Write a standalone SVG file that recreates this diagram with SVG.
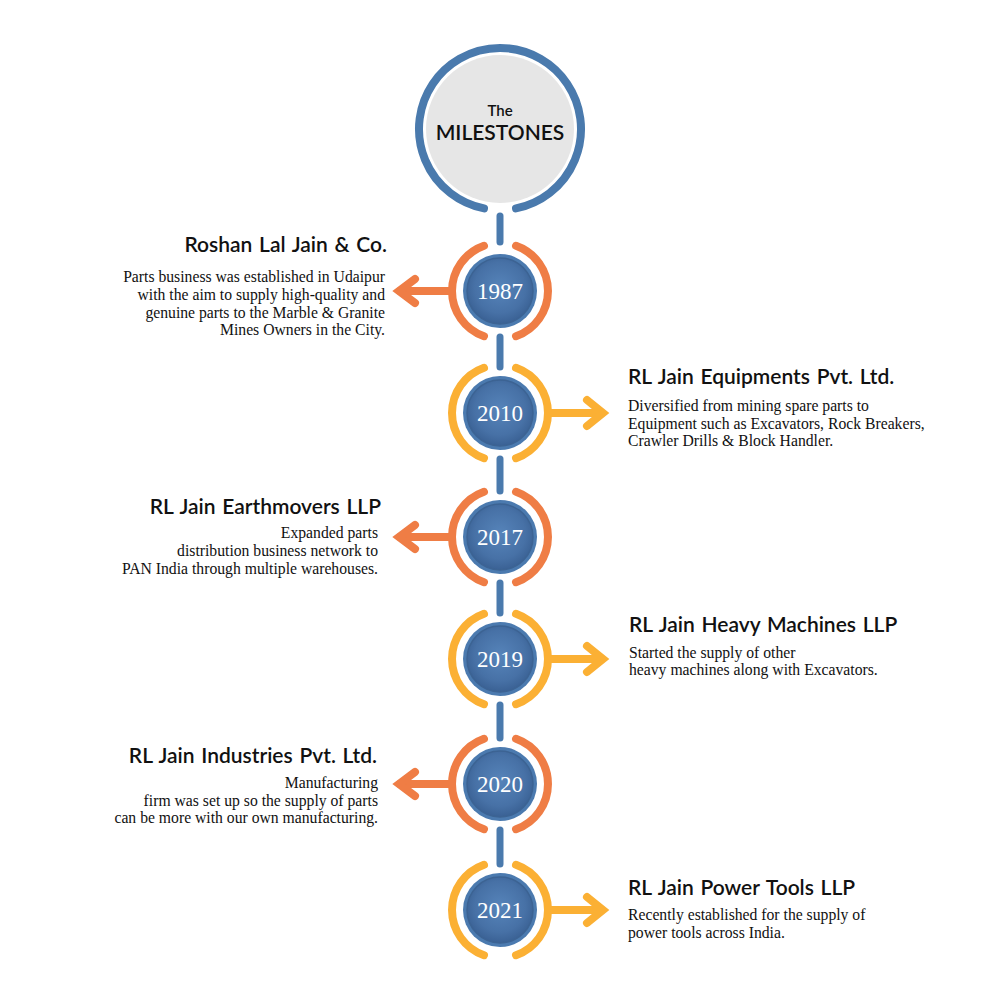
<svg xmlns="http://www.w3.org/2000/svg" width="1000" height="1000" viewBox="0 0 1000 1000">
<defs>
<radialGradient id="bg" cx="50%" cy="45%" r="55%">
<stop offset="0" stop-color="#5684ba"/>
<stop offset="0.7" stop-color="#4771a6"/>
<stop offset="1" stop-color="#3a6194"/>
</radialGradient>
<style>
.orb{fill:#4b7aaf}
.orbi{fill:url(#bg);stroke:#3c6393;stroke-width:1.5}
.yr{font-family:"Liberation Serif","Times New Roman",serif;font-size:23px;fill:#fff;text-anchor:middle}
.ro{fill:none;stroke:#ef7d45;stroke-width:8;stroke-linecap:round}
.ry{fill:none;stroke:#fbb034;stroke-width:8;stroke-linecap:round}
.stub{stroke:#4a7aad;stroke-width:7;stroke-linecap:round}
.hd{font-family:Lato,"Open Sans",sans-serif;font-weight:600;font-size:21px;word-spacing:1.5px;fill:#111}
.bd{font-family:"Liberation Serif","Times New Roman",serif;font-size:15.7px;fill:#111}
.l{text-anchor:end}
</style>
</defs>
<rect width="1000" height="1000" fill="#fff"/>

<g id="connectors">
<line class="stub" x1="500" y1="216" x2="500" y2="242"/>
<line class="stub" x1="500" y1="337" x2="500" y2="367"/>
<line class="stub" x1="500" y1="459" x2="500" y2="491"/>
<line class="stub" x1="500" y1="583" x2="500" y2="613"/>
<line class="stub" x1="500" y1="705" x2="500" y2="738"/>
<line class="stub" x1="500" y1="830" x2="500" y2="864"/>
</g>

<g id="title">
<circle cx="500" cy="129" r="74" fill="#e6e6e6"/>
<path d="M516 208.4 A81 81 0 1 0 484 208.4" fill="none" stroke="#4a7aad" stroke-width="8" stroke-linecap="round"/>
<text x="500" y="116" font-family="Lato,'Open Sans',sans-serif" font-weight="600" font-size="15" fill="#111" text-anchor="middle">The</text>
<text x="500" y="140" font-family="Lato,'Open Sans',sans-serif" font-weight="600" font-size="21" fill="#111" text-anchor="middle">MILESTONES</text>
</g>

<g id="n1987">
<path class="ro" d="M484 245.75 A48 48 0 0 0 484 336.25"/>
<path class="ro" d="M516 245.75 A48 48 0 0 1 516 336.25"/>
<line class="ro" x1="452" y1="291" x2="400" y2="291" stroke-linecap="butt"/>
<polyline class="ro" points="415,279 399,291 415,303" stroke-linejoin="miter"/>
<circle class="orb" cx="500" cy="291" r="37"/>
<circle class="orbi" cx="500" cy="291" r="33"/>
<text class="yr" x="500" y="299">1987</text>
<text class="hd l" x="387" y="252">Roshan Lal Jain &amp; Co.</text>
<text class="bd l" x="385" y="282">Parts business was established in Udaipur</text>
<text class="bd l" x="385" y="300">with the aim to supply high-quality and</text>
<text class="bd l" x="385" y="318">genuine parts to the Marble &amp; Granite</text>
<text class="bd l" x="385" y="335">Mines Owners in the City.</text>
</g>

<g id="n2010">
<path class="ry" d="M484 367.75 A48 48 0 0 0 484 458.25"/>
<path class="ry" d="M516 367.75 A48 48 0 0 1 516 458.25"/>
<line class="ry" x1="548" y1="413" x2="600" y2="413" stroke-linecap="butt"/>
<polyline class="ry" points="587,400 603,413 587,426" stroke-linejoin="miter"/>
<circle class="orb" cx="500" cy="413" r="37"/>
<circle class="orbi" cx="500" cy="413" r="33"/>
<text class="yr" x="500" y="421">2010</text>
<text class="hd" x="628" y="384">RL Jain Equipments Pvt. Ltd.</text>
<text class="bd" x="628" y="411">Diversified from mining spare parts to</text>
<text class="bd" x="628" y="429">Equipment such as Excavators, Rock Breakers,</text>
<text class="bd" x="628" y="446">Crawler Drills &amp; Block Handler.</text>
</g>

<g id="n2017">
<path class="ro" d="M484 491.75 A48 48 0 0 0 484 582.25"/>
<path class="ro" d="M516 491.75 A48 48 0 0 1 516 582.25"/>
<line class="ro" x1="452" y1="537" x2="400" y2="537" stroke-linecap="butt"/>
<polyline class="ro" points="415,525 399,537 415,549" stroke-linejoin="miter"/>
<circle class="orb" cx="500" cy="537" r="37"/>
<circle class="orbi" cx="500" cy="537" r="33"/>
<text class="yr" x="500" y="545">2017</text>
<text class="hd l" x="381" y="514">RL Jain Earthmovers LLP</text>
<text class="bd l" x="378" y="538">Expanded parts</text>
<text class="bd l" x="378" y="556">distribution business network to</text>
<text class="bd l" x="378" y="574">PAN India through multiple warehouses.</text>
</g>

<g id="n2019">
<path class="ry" d="M484 613.75 A48 48 0 0 0 484 704.25"/>
<path class="ry" d="M516 613.75 A48 48 0 0 1 516 704.25"/>
<line class="ry" x1="548" y1="659" x2="600" y2="659" stroke-linecap="butt"/>
<polyline class="ry" points="587,646 603,659 587,672" stroke-linejoin="miter"/>
<circle class="orb" cx="500" cy="659" r="37"/>
<circle class="orbi" cx="500" cy="659" r="33"/>
<text class="yr" x="500" y="667">2019</text>
<text class="hd" x="629" y="632">RL Jain Heavy Machines LLP</text>
<text class="bd" x="629" y="658">Started the supply of other</text>
<text class="bd" x="629" y="675">heavy machines along with Excavators.</text>
</g>

<g id="n2020">
<path class="ro" d="M484 738.75 A48 48 0 0 0 484 829.25"/>
<path class="ro" d="M516 738.75 A48 48 0 0 1 516 829.25"/>
<line class="ro" x1="452" y1="784" x2="400" y2="784" stroke-linecap="butt"/>
<polyline class="ro" points="415,772 399,784 415,796" stroke-linejoin="miter"/>
<circle class="orb" cx="500" cy="784" r="37"/>
<circle class="orbi" cx="500" cy="784" r="33"/>
<text class="yr" x="500" y="792">2020</text>
<text class="hd l" x="377" y="763">RL Jain Industries Pvt. Ltd.</text>
<text class="bd l" x="378" y="788">Manufacturing</text>
<text class="bd l" x="378" y="806">firm was set up so the supply of parts</text>
<text class="bd l" x="378" y="823">can be more with our own manufacturing.</text>
</g>

<g id="n2021">
<path class="ry" d="M484 864.75 A48 48 0 0 0 484 955.25"/>
<path class="ry" d="M516 864.75 A48 48 0 0 1 516 955.25"/>
<line class="ry" x1="548" y1="910" x2="600" y2="910" stroke-linecap="butt"/>
<polyline class="ry" points="587,897 603,910 587,923" stroke-linejoin="miter"/>
<circle class="orb" cx="500" cy="910" r="37"/>
<circle class="orbi" cx="500" cy="910" r="33"/>
<text class="yr" x="500" y="918">2021</text>
<text class="hd" x="628" y="895">RL Jain Power Tools LLP</text>
<text class="bd" x="628" y="920">Recently established for the supply of</text>
<text class="bd" x="628" y="938">power tools across India.</text>
</g>
</svg>
